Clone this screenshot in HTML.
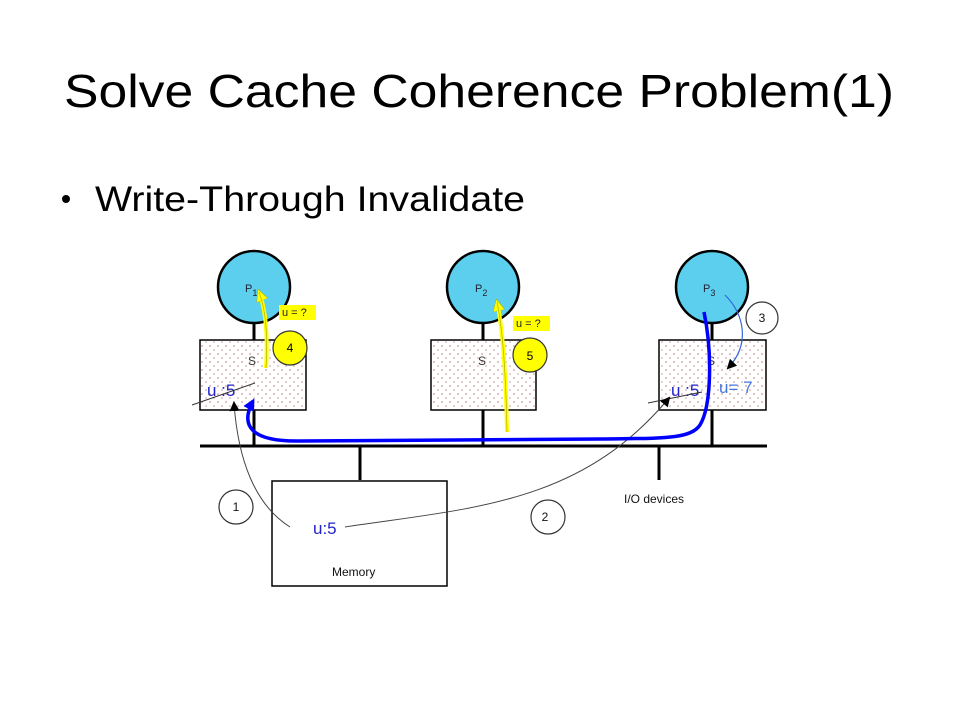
<!DOCTYPE html>
<html><head><meta charset="utf-8"><style>
html,body{margin:0;padding:0;background:#fff;}
svg{display:block;}
</style></head><body>
<svg width="960" height="720" viewBox="0 0 960 720" xmlns="http://www.w3.org/2000/svg">
<defs>
<pattern id="dots" width="8" height="8" patternUnits="userSpaceOnUse">
<rect width="8" height="8" fill="#fff"/>
<circle cx="2" cy="2" r="0.8" fill="#c77"/>
<circle cx="6" cy="6" r="0.8" fill="#c99"/>
</pattern>
<marker id="ab" markerWidth="10" markerHeight="10" refX="8" refY="5" orient="auto" markerUnits="userSpaceOnUse">
<path d="M0,0 L10,5 L0,10 z" fill="#000"/></marker>
<marker id="abl" markerWidth="12" markerHeight="12" refX="9" refY="6" orient="auto" markerUnits="userSpaceOnUse">
<path d="M0,0 L12,6 L0,12 z" fill="#00f"/></marker>
<marker id="abl2" markerWidth="10" markerHeight="10" refX="8" refY="5" orient="auto" markerUnits="userSpaceOnUse">
<path d="M0,0 L10,5 L0,10 z" fill="#000"/></marker>
<marker id="ay" markerWidth="12" markerHeight="12" refX="9" refY="6" orient="auto" markerUnits="userSpaceOnUse">
<path d="M0,0 L12,6 L0,12 z" fill="#ff0" stroke="#aa0" stroke-width="0.5"/></marker>
</defs>

<text x="64" y="107" font-family="Liberation Sans, sans-serif" font-size="46" textLength="830" lengthAdjust="spacingAndGlyphs" fill="#000">Solve Cache Coherence Problem(1)</text>
<circle cx="66" cy="199" r="4" fill="#000"/>
<text x="95" y="211" font-family="Liberation Sans, sans-serif" font-size="35" textLength="430" lengthAdjust="spacingAndGlyphs" fill="#000">Write-Through Invalidate</text>

<!-- stubs -->
<g stroke="#000" stroke-width="3">
<line x1="254" y1="322" x2="254" y2="340"/>
<line x1="483" y1="322" x2="483" y2="340"/>
<line x1="712" y1="322" x2="712" y2="340"/>
<line x1="254" y1="410" x2="254" y2="446"/>
<line x1="483" y1="410" x2="483" y2="446"/>
<line x1="712" y1="410" x2="712" y2="446"/>
<line x1="360" y1="446" x2="360" y2="480"/>
<line x1="659" y1="446" x2="659" y2="480"/>
<line x1="200" y1="446" x2="767" y2="446"/>
</g>

<!-- processors -->
<g stroke="#000" stroke-width="2.5" fill="#5ccfef">
<circle cx="254" cy="287" r="36"/>
<circle cx="483" cy="287" r="36"/>
<circle cx="712" cy="287" r="36"/>
</g>
<g font-family="Liberation Sans, sans-serif" font-size="11" fill="#223">
<text x="245" y="292">P<tspan font-size="9" dy="4">1</tspan></text>
<text x="475" y="292">P<tspan font-size="9" dy="4">2</tspan></text>
<text x="703" y="292">P<tspan font-size="9" dy="4">3</tspan></text>
</g>

<!-- caches -->
<g stroke="#000" stroke-width="1.5" fill="url(#dots)">
<rect x="200" y="340" width="106" height="70"/>
<rect x="431" y="340" width="105" height="70"/>
<rect x="659" y="340" width="107" height="70"/>
</g>
<g font-family="Liberation Sans, sans-serif" font-size="12" fill="#333">
<text x="248" y="365">S</text><text x="478" y="365">S</text><text x="707" y="365">S</text>
</g>
<g font-family="Liberation Sans, sans-serif" font-size="17" fill="#22c">
<text x="207" y="396">u :5</text>
<text x="671" y="396">u :5</text>
</g>
<text x="719" y="393" font-family="Liberation Sans, sans-serif" font-size="17" fill="#47d">u= 7</text>
<line x1="192" y1="405" x2="255" y2="383" stroke="#333" stroke-width="1"/>
<line x1="648" y1="403" x2="702" y2="392" stroke="#333" stroke-width="1"/>

<!-- memory -->
<rect x="272" y="481" width="175" height="105" fill="#fff" stroke="#000" stroke-width="1.5"/>
<text x="313" y="534" font-family="Liberation Sans, sans-serif" font-size="17" fill="#22c">u:5</text>
<text x="332" y="576" font-family="Liberation Sans, sans-serif" font-size="12" fill="#111">Memory</text>
<text x="624" y="503" font-family="Liberation Sans, sans-serif" font-size="12" fill="#111">I/O devices</text>

<!-- numbered circles -->
<g fill="#fff" stroke="#333" stroke-width="1.2">
<circle cx="236" cy="507" r="17"/><circle cx="548" cy="517" r="17"/><circle cx="762" cy="318" r="16"/>
</g>
<g font-family="Liberation Sans, sans-serif" font-size="12" fill="#111" text-anchor="middle">
<text x="236" y="511">1</text><text x="545" y="521">2</text><text x="762" y="322">3</text>
</g>

<!-- yellow -->
<path d="M266,368 C268,335 266,310 259,292" stroke="#ff0" stroke-width="4" fill="none" marker-end="url(#ay)"/>
<path d="M507,432 C506,380 503,330 497,302" stroke="#ff0" stroke-width="4" fill="none" marker-end="url(#ay)"/>
<path d="M266,368 C268,335 266,310 259,292" stroke="#aa0" stroke-width="0.6" fill="none"/>
<path d="M507,432 C506,380 503,330 497,302" stroke="#aa0" stroke-width="0.6" fill="none"/>
<circle cx="290" cy="348" r="17" fill="#ff0" stroke="#333" stroke-width="1.2"/>
<circle cx="530" cy="355" r="17" fill="#ff0" stroke="#333" stroke-width="1.2"/>
<text x="290" y="352" font-family="Liberation Sans, sans-serif" font-size="12" text-anchor="middle">4</text>
<text x="530" y="360" font-family="Liberation Sans, sans-serif" font-size="12" text-anchor="middle">5</text>
<rect x="279" y="305" width="37" height="15" fill="#ff0"/>
<rect x="513" y="316" width="37" height="15" fill="#ff0"/>
<g font-family="Liberation Sans, sans-serif" font-size="11" fill="#222">
<text x="282" y="316">u = ?</text><text x="516" y="327">u = ?</text>
</g>

<!-- black arrows -->
<path d="M290,527 C255,505 238,460 234,403" stroke="#444" stroke-width="1" fill="none" marker-end="url(#ab)"/>
<path d="M345,527 C470,508 580,505 669,398" stroke="#444" stroke-width="1" fill="none" marker-end="url(#ab)"/>
<!-- blue thin arrow 3 -->
<path d="M725,295 C745,315 750,345 728,368" stroke="#36d" stroke-width="1.2" fill="none" marker-end="url(#abl2)"/>
<!-- big blue -->
<path d="M704,312 C712,350 712,405 700,425 C690,440 660,438 600,439 L300,441 C250,442 240,425 253,401" stroke="#00f" stroke-width="3.5" fill="none" marker-end="url(#abl)"/>
</svg>
</body></html>
